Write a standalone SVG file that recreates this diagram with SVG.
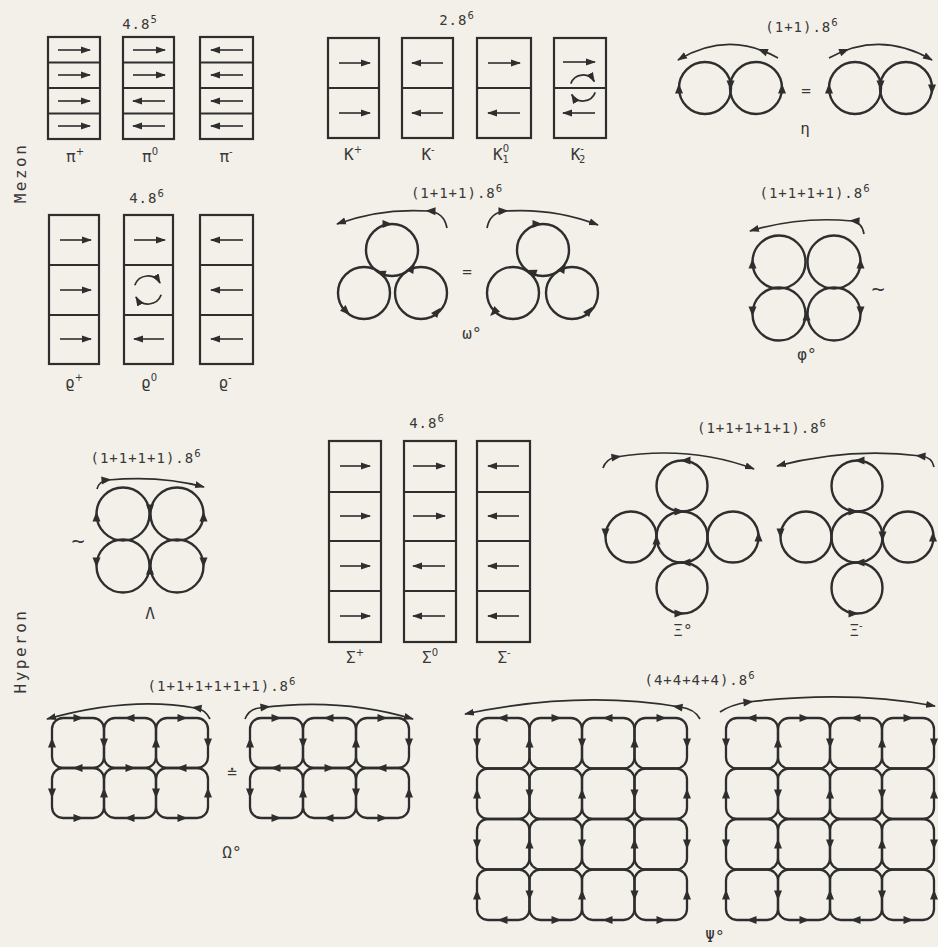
<svg xmlns="http://www.w3.org/2000/svg" width="938" height="947" viewBox="0 0 938 947">
<defs>
<marker id="h" viewBox="0 0 10 8" refX="9" refY="4" markerWidth="10" markerHeight="8" markerUnits="userSpaceOnUse" orient="auto"><path d="M0,0.5 L10,4 L0,7.5 Z" fill="#2e2e2e"/></marker>
<path id="R" d="M5.5,0 L-4.5,-4 L-4.5,4Z"/>
<path id="L" d="M-5.5,0 L4.5,-4 L4.5,4Z"/>
<path id="U" d="M0,-5.5 L-4,4.5 L4,4.5Z"/>
<path id="D" d="M0,5.5 L-4,-4.5 L4,-4.5Z"/>
</defs>
<style>
.box{fill:none;stroke:#2e2e2e;stroke-width:2.2}
.ar{stroke:#2e2e2e;stroke-width:1.6;fill:none;marker-end:url(#h)}
.c{fill:none;stroke:#2e2e2e;stroke-width:2.4}
.arc{fill:none;stroke:#2e2e2e;stroke-width:1.7;marker-end:url(#h)}
.cell{fill:none;stroke:#2e2e2e;stroke-width:2.3}
use{fill:#2e2e2e}
text{font-family:"DejaVu Sans Mono","DejaVu Sans",monospace;fill:#383838}
.t{font-size:14px;letter-spacing:1px;text-anchor:middle}
.lb{font-size:16px;text-anchor:middle}
.side{font-size:16px;letter-spacing:2.5px;text-anchor:middle}
.s{font-size:10px;font-family:"DejaVu Sans",sans-serif}
.tl{font-size:22px;text-anchor:middle}
</style>
<rect width="938" height="947" fill="#f3f0e9"/>

<text class="side" transform="rotate(-90 20 173)" x="20" y="179">Mezon</text>
<text class="side" transform="rotate(-90 20 651)" x="20" y="657">Hyperon</text>

<!-- PI mesons -->
<text class="t" x="140" y="29">4.8<tspan class="s" dy="-6">5</tspan></text>
<g id="pi-plus">
<rect class="box" x="48" y="37" width="52" height="102"/>
<path class="box" d="M48,62.5H100M48,88H100M48,113.5H100"/>
<line class="ar" x1="58" y1="50" x2="90" y2="50"/>
<line class="ar" x1="58" y1="75" x2="90" y2="75"/>
<line class="ar" x1="58" y1="101" x2="90" y2="101"/>
<line class="ar" x1="58" y1="126" x2="90" y2="126"/>
<text class="lb" x="75" y="162">π<tspan class="s" dy="-7">+</tspan></text>
</g>
<g id="pi-zero">
<rect class="box" x="123" y="37" width="51" height="102"/>
<path class="box" d="M123,62.5H174M123,88H174M123,113.5H174"/>
<line class="ar" x1="133" y1="50" x2="165" y2="50"/>
<line class="ar" x1="133" y1="75" x2="165" y2="75"/>
<line class="ar" x1="165" y1="101" x2="133" y2="101"/>
<line class="ar" x1="165" y1="126" x2="133" y2="126"/>
<text class="lb" x="150" y="162">π<tspan class="s" dy="-7">0</tspan></text>
</g>
<g id="pi-minus">
<rect class="box" x="200" y="37" width="53" height="102"/>
<path class="box" d="M200,62.5H253M200,88H253M200,113.5H253"/>
<line class="ar" x1="243" y1="50" x2="211" y2="50"/>
<line class="ar" x1="243" y1="75" x2="211" y2="75"/>
<line class="ar" x1="243" y1="101" x2="211" y2="101"/>
<line class="ar" x1="243" y1="126" x2="211" y2="126"/>
<text class="lb" x="226" y="162">π<tspan class="s" dy="-7">-</tspan></text>
</g>

<!-- K mesons -->
<text class="t" x="457" y="25">2.8<tspan class="s" dy="-6">6</tspan></text>
<g id="k-plus">
<rect class="box" x="328" y="38" width="51" height="100"/>
<path class="box" d="M328,88H379"/>
<line class="ar" x1="339" y1="63" x2="370" y2="63"/>
<line class="ar" x1="339" y1="113" x2="370" y2="113"/>
<text class="lb" x="353" y="160">K<tspan class="s" dy="-7">+</tspan></text>
</g>
<g id="k-minus">
<rect class="box" x="402" y="38" width="51" height="100"/>
<path class="box" d="M402,88H453"/>
<line class="ar" x1="443" y1="63" x2="412" y2="63"/>
<line class="ar" x1="443" y1="113" x2="412" y2="113"/>
<text class="lb" x="428" y="160">K<tspan class="s" dy="-7">-</tspan></text>
</g>
<g id="k1-zero">
<rect class="box" x="477" y="38" width="54" height="100"/>
<path class="box" d="M477,88H531"/>
<line class="ar" x1="488" y1="63" x2="520" y2="63"/>
<line class="ar" x1="520" y1="113" x2="488" y2="113"/>
<text class="lb" x="501" y="160">K<tspan class="s" dy="-8">0</tspan><tspan class="s" dx="-6.4" dy="11">1</tspan></text>
</g>
<g id="k2-minus">
<rect class="box" x="554" y="38" width="52" height="100"/>
<path class="box" d="M554,88H606"/>
<line class="ar" x1="563" y1="62" x2="595" y2="62"/>
<line class="ar" x1="595" y1="113" x2="563" y2="113"/>
<path class="arc" d="M570.8,83.6 A13,13 0 0 1 594.3,81.5"/>
<path class="arc" d="M595.2,92.4 A13,13 0 0 1 571.7,94.5"/>
<text class="lb" x="578" y="160">K<tspan class="s" dy="-8">-</tspan><tspan class="s" dx="-5" dy="11">2</tspan></text>
</g>

<!-- eta -->
<g id="eta">
<text class="t" x="802" y="32">(1+1).8<tspan class="s" dy="-6">6</tspan></text>
<path class="arc" d="M778,58 Q728,30 678,60"/>
<use href="#R" transform="translate(763,51) rotate(201)"/>
<circle class="c" cx="705" cy="88" r="26"/>
<circle class="c" cx="756" cy="88" r="26"/>
<use href="#U" x="679" y="89"/>
<use href="#D" x="730.5" y="85"/>
<use href="#U" x="782" y="89"/>
<text class="lb" x="806" y="96">=</text>
<path class="arc" d="M829,58 Q880,30 932,60"/>
<use href="#R" transform="translate(844,51) rotate(-21)"/>
<circle class="c" cx="855" cy="88" r="26"/>
<circle class="c" cx="906" cy="88" r="26"/>
<use href="#U" x="829" y="89"/>
<use href="#D" x="880.5" y="85"/>
<use href="#D" x="932" y="89"/>
<text class="lb" x="805" y="134">η</text>
</g>

<!-- rho -->
<text class="t" x="147" y="203">4.8<tspan class="s" dy="-6">6</tspan></text>
<g id="rho-plus">
<rect class="box" x="49" y="215" width="50" height="149"/>
<path class="box" d="M49,265H99M49,315H99"/>
<line class="ar" x1="60" y1="240" x2="91" y2="240"/>
<line class="ar" x1="60" y1="290" x2="91" y2="290"/>
<line class="ar" x1="60" y1="339" x2="91" y2="339"/>
<text class="lb" x="74" y="388">ϱ<tspan class="s" dy="-7">+</tspan></text>
</g>
<g id="rho-zero">
<rect class="box" x="124" y="215" width="49" height="149"/>
<path class="box" d="M124,265H173M124,315H173"/>
<line class="ar" x1="134" y1="240" x2="165" y2="240"/>
<path class="arc" d="M134.8,285.2 A14,14 0 0 1 160.1,283"/>
<path class="arc" d="M161.2,294.8 A14,14 0 0 1 135.9,297"/>
<line class="ar" x1="164" y1="339" x2="134" y2="339"/>
<text class="lb" x="149" y="388">ϱ<tspan class="s" dy="-7">0</tspan></text>
</g>
<g id="rho-minus">
<rect class="box" x="200" y="215" width="53" height="149"/>
<path class="box" d="M200,265H253M200,315H253"/>
<line class="ar" x1="243" y1="240" x2="211" y2="240"/>
<line class="ar" x1="243" y1="290" x2="211" y2="290"/>
<line class="ar" x1="243" y1="339" x2="211" y2="339"/>
<text class="lb" x="225" y="388">ϱ<tspan class="s" dy="-7">-</tspan></text>
</g>

<!-- omega meson -->
<g id="omega-meson">
<text class="t" x="457" y="198">(1+1+1).8<tspan class="s" dy="-6">6</tspan></text>
<path class="arc" d="M447,228 Q444,212 428,211 Q380,208 337,224"/>
<use href="#R" transform="translate(431,211) rotate(182)"/>
<circle class="c" cx="392" cy="250" r="26"/>
<circle class="c" cx="364" cy="293" r="26"/>
<circle class="c" cx="421" cy="293" r="26"/>
<use href="#R" transform="translate(387,224) rotate(0)"/>
<use href="#R" transform="translate(381,273) rotate(200)"/>
<use href="#R" transform="translate(412,268) rotate(-60)"/>
<use href="#R" transform="translate(346,311) rotate(45)"/>
<use href="#R" transform="translate(437,312) rotate(-50)"/>
<text class="lb" x="467" y="277">=</text>
<path class="arc" d="M487,228 Q490,212 506,211 Q555,208 598,225"/>
<use href="#R" transform="translate(503,211) rotate(-2)"/>
<circle class="c" cx="543" cy="250" r="26"/>
<circle class="c" cx="513" cy="293" r="26"/>
<circle class="c" cx="572" cy="293" r="26"/>
<use href="#R" transform="translate(537,224) rotate(0)"/>
<use href="#R" transform="translate(532,272) rotate(200)"/>
<use href="#R" transform="translate(563,268) rotate(-60)"/>
<use href="#R" transform="translate(494,312) rotate(135)"/>
<use href="#R" transform="translate(589,311) rotate(-50)"/>
<text class="lb" x="472" y="339">ω°</text>
</g>

<!-- phi -->
<g id="phi">
<text class="t" x="815" y="198">(1+1+1+1).8<tspan class="s" dy="-6">6</tspan></text>
<path class="arc" d="M864,234 Q862,222 852,221 Q800,216 750,231"/>
<use href="#R" transform="translate(855,221) rotate(184)"/>
<circle class="c" cx="779" cy="262" r="26.5"/>
<circle class="c" cx="834" cy="262" r="26.5"/>
<circle class="c" cx="779" cy="314" r="26.5"/>
<circle class="c" cx="834" cy="314" r="26.5"/>
<use href="#U" x="752.5" y="264"/>
<use href="#U" x="860.5" y="264"/>
<use href="#D" x="752.5" y="311"/>
<use href="#D" x="860.5" y="311"/>
<use href="#U" x="806.5" y="316"/>
<text class="tl" x="878" y="296">~</text>
<text class="lb" x="807" y="360">φ°</text>
</g>

<!-- Lambda -->
<g id="lambda">
<text class="t" x="146" y="463">(1+1+1+1).8<tspan class="s" dy="-6">6</tspan></text>
<path class="arc" d="M97,489 Q99,481 108,480 Q160,475 204,487"/>
<use href="#R" transform="translate(106,480) rotate(-5)"/>
<circle class="c" cx="123" cy="514" r="26.5"/>
<circle class="c" cx="177" cy="514" r="26.5"/>
<circle class="c" cx="123" cy="566" r="26.5"/>
<circle class="c" cx="177" cy="566" r="26.5"/>
<use href="#U" x="96.5" y="517"/>
<use href="#D" x="150" y="509"/>
<use href="#U" x="203.5" y="517"/>
<use href="#D" x="96.5" y="562"/>
<use href="#U" x="150" y="570"/>
<use href="#D" x="203.5" y="562"/>
<text class="tl" x="78" y="548">~</text>
<text class="lb" x="150" y="619">Λ</text>
</g>

<!-- Sigma -->
<text class="t" x="427" y="428">4.8<tspan class="s" dy="-6">6</tspan></text>
<g id="sigma-plus">
<rect class="box" x="329" y="441" width="52" height="201"/>
<path class="box" d="M329,492H381M329,541H381M329,591H381"/>
<line class="ar" x1="340" y1="466" x2="370" y2="466"/>
<line class="ar" x1="340" y1="516" x2="370" y2="516"/>
<line class="ar" x1="340" y1="566" x2="370" y2="566"/>
<line class="ar" x1="340" y1="616" x2="370" y2="616"/>
<text class="lb" x="355" y="663">Σ<tspan class="s" dy="-7">+</tspan></text>
</g>
<g id="sigma-zero">
<rect class="box" x="404" y="441" width="52" height="201"/>
<path class="box" d="M404,492H456M404,541H456M404,591H456"/>
<line class="ar" x1="413" y1="466" x2="445" y2="466"/>
<line class="ar" x1="413" y1="516" x2="445" y2="516"/>
<line class="ar" x1="445" y1="566" x2="413" y2="566"/>
<line class="ar" x1="445" y1="616" x2="413" y2="616"/>
<text class="lb" x="430" y="663">Σ<tspan class="s" dy="-7">0</tspan></text>
</g>
<g id="sigma-minus">
<rect class="box" x="477" y="441" width="53" height="201"/>
<path class="box" d="M477,492H530M477,541H530M477,591H530"/>
<line class="ar" x1="519" y1="466" x2="488" y2="466"/>
<line class="ar" x1="519" y1="516" x2="488" y2="516"/>
<line class="ar" x1="519" y1="566" x2="488" y2="566"/>
<line class="ar" x1="519" y1="616" x2="488" y2="616"/>
<text class="lb" x="504" y="663">Σ<tspan class="s" dy="-7">-</tspan></text>
</g>

<!-- Xi -->
<text class="t" x="762" y="433">(1+1+1+1+1).8<tspan class="s" dy="-6">6</tspan></text>
<g id="xi-zero">
<path class="arc" d="M603,468 Q606,459 616,457 Q690,445 754,469"/>
<use href="#R" transform="translate(616,457) rotate(-8)"/>
<circle class="c" cx="682" cy="537" r="25.5"/>
<circle class="c" cx="682" cy="486" r="25.5"/>
<circle class="c" cx="682" cy="588" r="25.5"/>
<circle class="c" cx="631" cy="537" r="25.5"/>
<circle class="c" cx="733" cy="537" r="25.5"/>
<use href="#L" x="686" y="460.5"/>
<use href="#R" x="679" y="511.5"/>
<use href="#D" x="605.5" y="533"/>
<use href="#U" x="656.5" y="540"/>
<use href="#U" x="758.5" y="537"/>
<use href="#L" x="686" y="562.5"/>
<use href="#R" x="679" y="613.5"/>
<text class="lb" x="683" y="636">Ξ°</text>
</g>
<g id="xi-minus">
<path class="arc" d="M934,467 Q932,457 921,456 Q850,447 777,466"/>
<use href="#R" transform="translate(921,456) rotate(185)"/>
<circle class="c" cx="857" cy="537" r="25.5"/>
<circle class="c" cx="857" cy="486" r="25.5"/>
<circle class="c" cx="857" cy="588" r="25.5"/>
<circle class="c" cx="806" cy="537" r="25.5"/>
<circle class="c" cx="908" cy="537" r="25.5"/>
<use href="#L" x="860" y="460.5"/>
<use href="#R" x="853" y="511.5"/>
<use href="#D" x="780.5" y="533"/>
<use href="#D" x="882.5" y="536"/>
<use href="#U" x="933" y="537"/>
<use href="#L" x="860" y="562.5"/>
<use href="#R" x="853" y="613.5"/>
<text class="lb" x="856" y="636">Ξ<tspan class="s" dy="-7">-</tspan></text>
</g>

<!-- Omega baryon -->
<text class="t" x="222" y="691">(1+1+1+1+1+1).8<tspan class="s" dy="-6">6</tspan></text>
<g id="omega-left">
<path class="arc" d="M210,719 Q205,709 195,708 Q130,696 47,719"/>
<use href="#R" transform="translate(197,708) rotate(188)"/>
<rect class="cell" x="52" y="718" width="52" height="50" rx="11"/>
<rect class="cell" x="104" y="718" width="52" height="50" rx="11"/>
<rect class="cell" x="156" y="718" width="52" height="50" rx="11"/>
<rect class="cell" x="52" y="768" width="52" height="50" rx="11"/>
<rect class="cell" x="104" y="768" width="52" height="50" rx="11"/>
<rect class="cell" x="156" y="768" width="52" height="50" rx="11"/>
<use href="#R" x="78" y="718"/><use href="#L" x="130" y="718"/><use href="#R" x="182" y="718"/>
<use href="#L" x="78" y="768"/><use href="#R" x="130" y="768"/><use href="#L" x="182" y="768"/>
<use href="#R" x="78" y="818"/><use href="#L" x="130" y="818"/><use href="#R" x="182" y="818"/>
<use href="#U" x="52" y="743"/><use href="#D" x="104" y="743"/><use href="#U" x="156" y="743"/><use href="#D" x="208" y="743"/>
<use href="#D" x="52" y="793"/><use href="#U" x="104" y="793"/><use href="#D" x="156" y="793"/><use href="#U" x="208" y="793"/>
</g>
<text class="lb" x="232" y="778">≐</text>
<g id="omega-right">
<path class="arc" d="M245,719 Q249,709 259,708 Q340,697 413,719"/>
<use href="#R" transform="translate(265,707) rotate(-6)"/>
<rect class="cell" x="250" y="718" width="53" height="50" rx="11"/>
<rect class="cell" x="303" y="718" width="53" height="50" rx="11"/>
<rect class="cell" x="356" y="718" width="53" height="50" rx="11"/>
<rect class="cell" x="250" y="768" width="53" height="50" rx="11"/>
<rect class="cell" x="303" y="768" width="53" height="50" rx="11"/>
<rect class="cell" x="356" y="768" width="53" height="50" rx="11"/>
<use href="#R" x="276" y="718"/><use href="#L" x="329" y="718"/><use href="#R" x="382" y="718"/>
<use href="#L" x="276" y="768"/><use href="#R" x="329" y="768"/><use href="#L" x="382" y="768"/>
<use href="#R" x="276" y="818"/><use href="#L" x="329" y="818"/><use href="#R" x="382" y="818"/>
<use href="#U" x="250" y="743"/><use href="#D" x="303" y="743"/><use href="#U" x="356" y="743"/><use href="#D" x="409" y="743"/>
<use href="#D" x="250" y="793"/><use href="#U" x="303" y="793"/><use href="#D" x="356" y="793"/><use href="#U" x="409" y="793"/>
</g>
<text class="lb" x="232" y="858">Ω°</text>

<!-- Psi -->
<text class="t" x="700" y="685">(4+4+4+4).8<tspan class="s" dy="-6">6</tspan></text>
<g id="psi-left">
<path class="arc" d="M700,719 Q695,709 680,707 Q580,690 465,714"/>
<use href="#R" transform="translate(678,707) rotate(188)"/>
<rect class="cell" x="477" y="718" width="52.5" height="50.5" rx="11"/>
<rect class="cell" x="529.5" y="718" width="52.5" height="50.5" rx="11"/>
<rect class="cell" x="582" y="718" width="52.5" height="50.5" rx="11"/>
<rect class="cell" x="634.5" y="718" width="52.5" height="50.5" rx="11"/>
<rect class="cell" x="477" y="768.5" width="52.5" height="50.5" rx="11"/>
<rect class="cell" x="529.5" y="768.5" width="52.5" height="50.5" rx="11"/>
<rect class="cell" x="582" y="768.5" width="52.5" height="50.5" rx="11"/>
<rect class="cell" x="634.5" y="768.5" width="52.5" height="50.5" rx="11"/>
<rect class="cell" x="477" y="819" width="52.5" height="50.5" rx="11"/>
<rect class="cell" x="529.5" y="819" width="52.5" height="50.5" rx="11"/>
<rect class="cell" x="582" y="819" width="52.5" height="50.5" rx="11"/>
<rect class="cell" x="634.5" y="819" width="52.5" height="50.5" rx="11"/>
<rect class="cell" x="477" y="869.5" width="52.5" height="50.5" rx="11"/>
<rect class="cell" x="529.5" y="869.5" width="52.5" height="50.5" rx="11"/>
<rect class="cell" x="582" y="869.5" width="52.5" height="50.5" rx="11"/>
<rect class="cell" x="634.5" y="869.5" width="52.5" height="50.5" rx="11"/>
<use href="#L" x="503" y="718"/><use href="#R" x="556" y="718"/><use href="#L" x="608" y="718"/><use href="#R" x="661" y="718"/>
<use href="#L" x="503" y="920"/><use href="#R" x="556" y="920"/><use href="#L" x="608" y="920"/><use href="#R" x="661" y="920"/>
<use href="#D" x="477" y="743"/><use href="#U" x="529.5" y="743"/><use href="#D" x="582" y="743"/><use href="#U" x="634.5" y="743"/><use href="#D" x="687" y="743"/>
<use href="#U" x="477" y="794"/><use href="#D" x="529.5" y="794"/><use href="#U" x="582" y="794"/><use href="#D" x="634.5" y="794"/><use href="#U" x="687" y="794"/>
<use href="#D" x="477" y="844"/><use href="#U" x="529.5" y="844"/><use href="#D" x="582" y="844"/><use href="#U" x="634.5" y="844"/><use href="#D" x="687" y="844"/>
<use href="#U" x="477" y="895"/><use href="#D" x="529.5" y="895"/><use href="#U" x="582" y="895"/><use href="#D" x="634.5" y="895"/><use href="#U" x="687" y="895"/>
</g>
<g id="psi-right">
<path class="arc" d="M720,712 Q730,705 748,702 Q850,690 935,706"/>
<use href="#R" transform="translate(748,702) rotate(-5)"/>
<rect class="cell" x="726" y="718" width="52" height="50.5" rx="11"/>
<rect class="cell" x="778" y="718" width="52" height="50.5" rx="11"/>
<rect class="cell" x="830" y="718" width="52" height="50.5" rx="11"/>
<rect class="cell" x="882" y="718" width="52" height="50.5" rx="11"/>
<rect class="cell" x="726" y="768.5" width="52" height="50.5" rx="11"/>
<rect class="cell" x="778" y="768.5" width="52" height="50.5" rx="11"/>
<rect class="cell" x="830" y="768.5" width="52" height="50.5" rx="11"/>
<rect class="cell" x="882" y="768.5" width="52" height="50.5" rx="11"/>
<rect class="cell" x="726" y="819" width="52" height="50.5" rx="11"/>
<rect class="cell" x="778" y="819" width="52" height="50.5" rx="11"/>
<rect class="cell" x="830" y="819" width="52" height="50.5" rx="11"/>
<rect class="cell" x="882" y="819" width="52" height="50.5" rx="11"/>
<rect class="cell" x="726" y="869.5" width="52" height="50.5" rx="11"/>
<rect class="cell" x="778" y="869.5" width="52" height="50.5" rx="11"/>
<rect class="cell" x="830" y="869.5" width="52" height="50.5" rx="11"/>
<rect class="cell" x="882" y="869.5" width="52" height="50.5" rx="11"/>
<use href="#L" x="752" y="718"/><use href="#R" x="804" y="718"/><use href="#L" x="856" y="718"/><use href="#R" x="908" y="718"/>
<use href="#L" x="752" y="920"/><use href="#R" x="804" y="920"/><use href="#L" x="856" y="920"/><use href="#R" x="908" y="920"/>
<use href="#D" x="726" y="743"/><use href="#U" x="778" y="743"/><use href="#D" x="830" y="743"/><use href="#U" x="882" y="743"/><use href="#D" x="934" y="743"/>
<use href="#U" x="726" y="794"/><use href="#D" x="778" y="794"/><use href="#U" x="830" y="794"/><use href="#D" x="882" y="794"/><use href="#U" x="934" y="794"/>
<use href="#D" x="726" y="844"/><use href="#U" x="778" y="844"/><use href="#D" x="830" y="844"/><use href="#U" x="882" y="844"/><use href="#D" x="934" y="844"/>
<use href="#U" x="726" y="895"/><use href="#D" x="778" y="895"/><use href="#U" x="830" y="895"/><use href="#D" x="882" y="895"/><use href="#U" x="934" y="895"/>
</g>
<text class="lb" x="715" y="942">Ψ°</text>
</svg>
